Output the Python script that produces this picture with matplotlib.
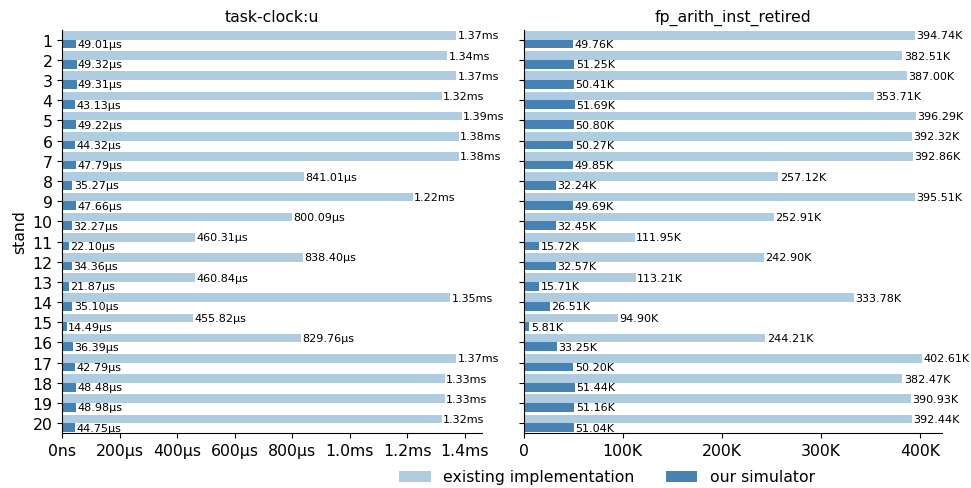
import matplotlib.pyplot as plt
import matplotlib.ticker as mticker
import numpy as np

stands = [str(i) for i in range(1, 21)]

# task-clock:u, in microseconds
clock_existing = [1370, 1340, 1370, 1320, 1390, 1380, 1380, 841.01, 1220, 800.09,
                  460.31, 838.40, 460.84, 1350, 455.82, 829.76, 1370, 1330, 1330, 1320]
clock_ours = [49.01, 49.32, 49.31, 43.13, 49.22, 44.32, 47.79, 35.27, 47.66, 32.27,
              22.10, 34.36, 21.87, 35.10, 14.49, 36.39, 42.79, 48.48, 48.98, 44.75]

# fp_arith_inst_retired, in thousands
fp_existing = [394.74, 382.51, 387.00, 353.71, 396.29, 392.32, 392.86, 257.12, 395.51, 252.91,
               111.95, 242.90, 113.21, 333.78, 94.90, 244.21, 402.61, 382.47, 390.93, 392.44]
fp_ours = [49.76, 51.25, 50.41, 51.69, 50.80, 50.27, 49.85, 32.24, 49.69, 32.45,
           15.72, 32.57, 15.71, 26.51, 5.81, 33.25, 50.20, 51.44, 51.16, 51.04]

light = '#b0cce0'
dark = '#4682b4'
fs = 11.3


def fmt_time_label(us):
    if us >= 1000:
        return f'{us / 1000:.2f}ms'
    return f'{us:.2f}µs'


def fmt_time_tick(us, pos):
    if us == 0:
        return '0ns'
    if us >= 1000:
        return f'{us / 1000:.1f}ms'
    return f'{us:.0f}µs'


def fmt_k_tick(k, pos):
    if k == 0:
        return '0'
    return f'{k:.0f}K'


fig = plt.figure(figsize=(9.71, 4.89), dpi=100)
ax1 = fig.add_axes([0.0642, 0.1118, 0.4319, 0.8256])
ax2 = fig.add_axes([0.5393, 0.1118, 0.4311, 0.8256])

y = np.arange(len(stands))
h = 0.43

panels = [
    (ax1, clock_existing, clock_ours, 'task-clock:u', fmt_time_label, fmt_time_tick,
     [0, 200, 400, 600, 800, 1000, 1200, 1400]),
    (ax2, fp_existing, fp_ours, 'fp_arith_inst_retired', lambda v: f'{v:.2f}K', fmt_k_tick,
     [0, 100, 200, 300, 400]),
]

for ax, existing, ours, title, lab, tickfmt, xt in panels:
    b1 = ax.barh(y - h / 2, existing, height=h, color=light, label='existing implementation')
    b2 = ax.barh(y + h / 2, ours, height=h, color=dark, label='our simulator')
    ax.bar_label(b1, labels=[lab(v) for v in existing], padding=1, fontsize=8)
    ax.bar_label(b2, labels=[lab(v) for v in ours], padding=1, fontsize=8)
    ax.set_xlim(0, max(existing) * 1.05)
    ax.set_ylim(19.5, -0.5)
    ax.set_yticks(y)
    ax.set_xticks(xt)
    ax.xaxis.set_major_formatter(mticker.FuncFormatter(tickfmt))
    ax.tick_params(labelsize=fs)
    ax.set_title(title, fontsize=fs)
    ax.spines['top'].set_visible(False)
    ax.spines['right'].set_visible(False)

ax1.set_yticklabels(stands)
ax1.set_ylabel('stand', fontsize=fs, labelpad=4)
ax2.set_yticklabels([])

handles, labels = ax1.get_legend_handles_labels()
fig.legend(handles, labels, loc='center', bbox_to_anchor=(607 / 971, 1 - 478 / 489),
           ncol=2, frameon=False, fontsize=fs)

fig.savefig('out.png', dpi=100)
